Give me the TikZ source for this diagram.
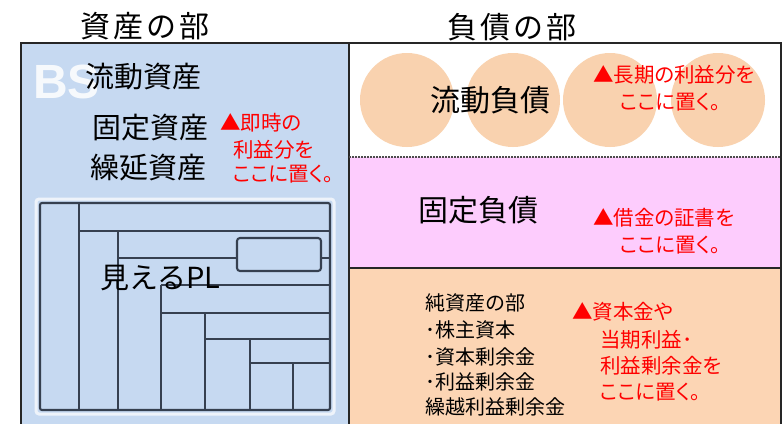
\documentclass[tikz,border=0pt]{standalone}
\usepackage{fontspec}
\newfontfamily\jp{Noto Sans CJK JP}
\newfontfamily\jpp{Noto Sans CJK JP}[RawFeature=+palt]
\newfontfamily\bsfont{Liberation Sans}
\definecolor{bsblue}{HTML}{C6D9F1}
\definecolor{pinkf}{HTML}{FDCCFD}
\definecolor{orangef}{HTML}{FCD5B4}
\definecolor{circf}{HTML}{F9D2AF}
\definecolor{plline}{HTML}{364050}
\definecolor{redt}{HTML}{FF0000}
\tikzset{
  hdr/.style={anchor=west,inner sep=0pt,font=\jp\fontsize{30}{30}\selectfont},
  big/.style={anchor=west,inner sep=0pt,font=\jp\fontsize{29}{29}\selectfont},
  bigr/.style={anchor=west,inner sep=0pt,font=\jp\fontsize{30}{30}\selectfont},
  redn/.style={anchor=west,inner sep=0pt,text=redt,font=\jpp\fontsize{20.5}{26}\selectfont},
  listn/.style={anchor=west,inner sep=0pt,font=\jp\fontsize{20}{20}\selectfont},
  plln/.style={draw=plline,line width=2.1pt},
  frame/.style={draw=black!85,line width=2pt}
}
\begin{document}
\begin{tikzpicture}[x=1pt,y=-1pt]
\useasboundingbox (0,0) rectangle (783,423);
\clip (0,0) rectangle (783,423);
% background areas
\fill[bsblue] (21,43) rectangle (349,440);
\fill[white] (349,43) rectangle (781,157);
\fill[pinkf] (349,157) rectangle (781,268);
\fill[orangef] (349,268) rectangle (781,440);
% circles
\foreach \cx/\nm in {407/c1,513/c2,610/c3,718/c4}
  \node[circle,fill=circf,minimum size=94pt,inner sep=0pt] (\nm) at (\cx,100) {};
% frames
\draw[frame] (21,43) rectangle (781,440);
\draw[frame] (349,43) -- (349,440);
\draw[frame] (349,268) -- (781,268);
\draw[draw=black!70,line width=1.6pt,dash pattern=on 2pt off 1pt] (349,157) -- (781,157);
% headers
\node[hdr] (hA) at (80,26) {資\kern3pt 産\kern3pt の\kern3pt 部};
\node[hdr] (hL) at (447,27) {負\kern3pt 債\kern3pt の\kern3pt 部};
% BS watermark
\node[anchor=west,inner sep=0pt,text=white,opacity=0.85,font=\bsfont\bfseries\fontsize{48}{48}\selectfont] (bs) at (33,82) {BS};
% left labels
\node[big] (ca) at (85,77) {流動資産};
\node[big] (fa) at (92,128) {固定資産};
\node[big] (da) at (90,168) {繰延資産};
\node[redn] (r1a) at (220,123) {▲即時の};
\node[redn] (r1b) at (233,150) {利益分を};
\node[redn] (r1c) at (233,174) {ここに置く。};
% PL figure
\draw[white,line width=3pt,opacity=0.7,rounded corners=3pt] (36,199) rectangle (334,414);
\draw[plln,rounded corners=2pt] (40,203) rectangle (330,410);
\draw[plln] (79,203) -- (79,410);
\draw[plln] (79,231) -- (330,231);
\draw[plln] (118,231) -- (118,410);
\draw[plln] (118,258) -- (237,258);
\draw[plln,rounded corners=3pt] (237,238) rectangle (321,271);
\draw[plln] (321,258) -- (330,258);
\draw[plln] (161,285) -- (330,285);
\draw[plln] (161,285) -- (161,410);
\draw[plln] (161,313) -- (330,313);
\draw[plln] (205,313) -- (205,410);
\draw[plln] (205,339) -- (330,339);
\draw[plln] (250,339) -- (250,410);
\draw[plln] (250,363) -- (330,363);
\draw[plln] (293,363) -- (293,410);
\node[anchor=west,inner sep=0pt,font=\jp\fontsize{29}{29}\selectfont] (pl) at (100,278) {見えるPL};
% right labels
\node[bigr] (cl) at (430,100) {流動負債};
\node[redn] (r2a) at (593,75) {▲長期の利益分を};
\node[redn] (r2b) at (620,102) {ここに置く。};
\node[bigr] (fl) at (418,210) {固定負債};
\node[redn] (r3a) at (593,218) {▲借金の証書を};
\node[redn] (r3b) at (620,245) {ここに置く。};
% net assets
\node[listn] (n1) at (425,303) {純資産の部};
\node[listn] (n2) at (425,330) {･株主資本};
\node[listn] (n3) at (425,357) {･資本剰余金};
\node[listn] (n4) at (425,382) {･利益剰余金};
\node[listn] (n5) at (425,407) {繰越利益剰余金};
\node[redn] (r4a) at (572,312) {▲資本金や};
\node[redn] (r4b) at (600,340) {当期利益･};
\node[redn] (r4c) at (600,366) {利益剰余金を};
\node[redn] (r4d) at (600,392) {ここに置く。};
\end{tikzpicture}
\end{document}
